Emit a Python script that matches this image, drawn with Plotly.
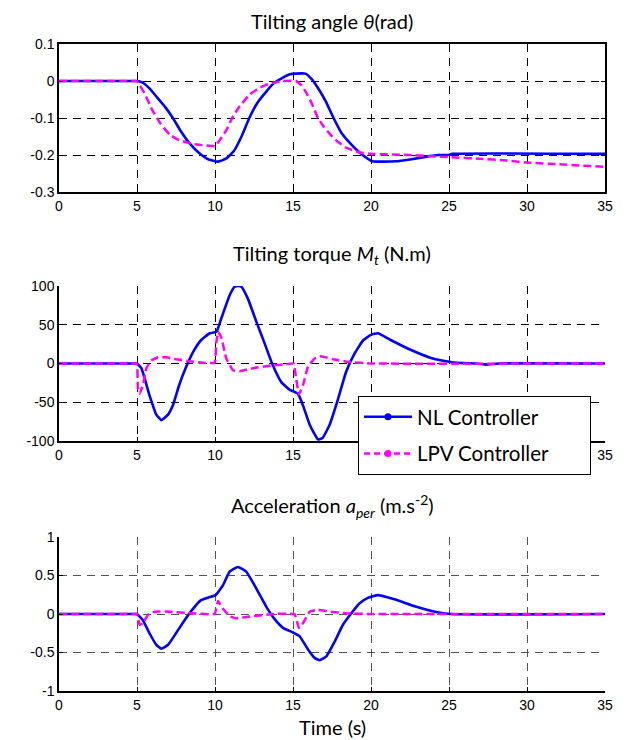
import plotly.graph_objects as go

# ---------------- data ----------------
x_ticks = [0, 5, 10, 15, 20, 25, 30, 35]

theta_nl_t = [0, 4.8, 5, 5.3, 5.8, 6.3, 6.8, 7.3, 7.8, 8.4, 9.0, 9.6, 10.2, 10.7, 11.2, 11.7, 12.2, 12.7, 13.3,
              13.8, 14.3, 14.8, 15.2, 15.8, 16.2, 16.6, 17.1, 17.6, 18.1, 18.7, 19.4, 20.1, 21.6, 22.5,
              23.5, 24.3, 25.0, 25.2, 35]
theta_nl = [0, 0, 0, -0.003, -0.02, -0.045, -0.07, -0.1, -0.135, -0.17, -0.195, -0.212, -0.218, -0.21, -0.19,
            -0.15, -0.1, -0.06, -0.028, -0.005, 0.008, 0.018, 0.02, 0.02, 0.005, -0.019, -0.055, -0.1,
            -0.14, -0.17, -0.198, -0.217, -0.217, -0.212, -0.205, -0.2, -0.2, -0.197, -0.197]

theta_lpv_t = [0, 4.8, 5, 5.5, 6.0, 6.5, 7.1, 7.6, 8.1, 8.6, 9.1, 9.6, 10.0, 10.3, 10.7, 11.1, 11.5, 12.2, 12.8,
               13.3, 13.8, 14.3, 15.2, 15.5, 15.8, 16.2, 16.6, 17.0, 17.4, 17.9, 18.4, 18.9, 19.4, 20.1,
               22.5, 25.1, 27, 28.7, 30.2, 32, 35]
theta_lpv = [0, 0, 0, -0.035, -0.08, -0.115, -0.145, -0.158, -0.165, -0.17, -0.173, -0.175, -0.176, -0.16,
             -0.135, -0.1, -0.073, -0.037, -0.02, -0.01, -0.004, 0, 0, -0.01, -0.028, -0.06, -0.1, -0.125,
             -0.145, -0.165, -0.18, -0.188, -0.194, -0.197, -0.2, -0.206, -0.21, -0.215, -0.221, -0.225,
             -0.232]

torque_nl_t = [0, 4.8, 5, 5.28, 5.8, 6.24, 6.56, 6.99, 7.3, 7.7, 8.16, 8.6, 9.1, 9.66, 10.09, 10.4, 10.94, 11.26,
               11.5, 11.69, 12.1, 12.65, 13.18, 13.7, 14.25, 14.8, 15.32, 15.64, 16.07, 16.6, 16.9, 17.35,
               17.9, 18.4, 18.95, 19.5, 20.0, 20.45, 21.2, 22.5, 23.8, 25.1, 25.9, 26.8, 27.4, 28.2, 35]
torque_nl = [0, 0, 0, -6, -41, -66, -73, -66, -54, -28, -4, 15, 30, 39, 41, 58, 88, 99, 100, 99, 84, 54, 26,
             -2, -24, -34, -39, -54, -79, -98, -96, -79, -45, -11, 13, 30, 37, 39, 31, 18, 7.5, 2, 0.5, 0,
             -1.5, 0, 0]

torque_lpv_t = [0, 4.9, 5, 5.06, 5.17, 5.38, 5.6, 5.92, 6.35, 6.9, 7.5, 8.4, 9.2, 9.98, 10.09, 10.2, 10.4, 10.73,
                11.15, 11.58, 12.44, 13.5, 14.57, 15.04, 15.2, 15.38, 15.64, 15.96, 16.39, 16.8, 17.56,
                18.6, 20, 35]
torque_lpv = [0, 0, 0, -32, -39, -28, -6, 4, 8, 8, 5.6, 3, 1, 1, 28, 41, 34, 6, -8.6, -10, -6, -3, -1, 0, -19,
              -40, -28, -4, 6.4, 9.4, 5.6, 2, 0, 0]

accel_nl_t = [0, 4.8, 5, 5.38, 5.8, 6.24, 6.56, 6.99, 7.5, 8.05, 8.6, 9.1, 9.66, 10.04, 10.5, 10.94, 11.47, 12.0,
              12.65, 13.3, 13.8, 14.36, 15.0, 15.43, 15.96, 16.39, 16.7, 17.14, 17.67, 18.2, 18.74, 19.27,
              19.8, 20.45, 21.5, 22.8, 24.1, 25.1, 35]
accel_nl = [0, 0, 0, -0.08, -0.25, -0.4, -0.45, -0.4, -0.25, -0.08, 0.07, 0.18, 0.22, 0.245, 0.37, 0.55, 0.61,
            0.55, 0.33, 0.09, -0.06, -0.18, -0.24, -0.29, -0.46, -0.57, -0.6, -0.55, -0.36, -0.14, 0.01,
            0.14, 0.21, 0.245, 0.19, 0.10, 0.03, 0, 0]

accel_lpv_t = [0, 4.9, 5, 5.17, 5.38, 5.7, 6.13, 7.1, 8.4, 9.98, 10.2, 10.5, 10.94, 11.37, 12.4, 13.7, 15.1,
               15.38, 15.64, 16.07, 16.6, 17.35, 18.4, 20, 35]
accel_lpv = [0, 0, 0, -0.14, -0.12, -0.01, 0.03, 0.03, 0.01, 0, 0.17, 0.07, -0.03, -0.055, -0.03, 0, 0, -0.18,
             -0.12, 0.03, 0.055, 0.03, 0.01, 0, 0]

legend_names = ["NL Controller", "LPV Controller"]

# ---------------- styling ----------------
BLUE = "#0000ff"
MAG = "#ff00ff"
W, H = 629, 740
L, R, T, B = 51, 597, 36, 683
pw, ph = R - L, B - T


def py(px):
    return (B - px) / ph


def px_x(px):
    return (px - L) / pw


fig = go.Figure()

panels = [
    (theta_nl_t, theta_nl, theta_lpv_t, theta_lpv, ""),
    (torque_nl_t, torque_nl, torque_lpv_t, torque_lpv, "2"),
    (accel_nl_t, accel_nl, accel_lpv_t, accel_lpv, "3"),
]
for tn, yn, tl, yl, sfx in panels:
    fig.add_trace(go.Scatter(x=tn, y=yn, mode="lines", xaxis="x" + sfx, yaxis="y" + sfx,
                             line=dict(color=BLUE, width=2.6, shape="spline", smoothing=0.4),
                             showlegend=False))
    fig.add_trace(go.Scatter(x=tl, y=yl, mode="lines", xaxis="x" + sfx, yaxis="y" + sfx,
                             line=dict(color=MAG, width=2.5, dash="8px,4px", shape="spline", smoothing=0.25),
                             showlegend=False))

pad = "\u00a0" * 7
for name, col, dash, grp in [(legend_names[0], BLUE, "solid", "a"), (legend_names[1], MAG, "6px,4px", "b")]:
    fig.add_trace(go.Scatter(x=[None], y=[None], mode="lines+markers", name=name + pad, legendgroup=grp,
                             line=dict(color=col, width=2.5, dash=dash),
                             marker=dict(color=col, size=7, symbol="circle")))

tickfont = dict(family="Liberation Sans, Arial", size=14, color="black")
domains = [(py(184), py(36)), (py(433), py(278)), (py(683), py(529))]
yranges = [(-0.3, 0.1), (-100, 100), (-1, 1)]
ytickv = [[0.1, 0, -0.1, -0.2, -0.3], [100, 50, 0, -50, -100], [1, 0.5, 0, -0.5, -1]]
ytickt = [["0.1", "0", "-0.1", "-0.2", "-0.3"], ["100", "50", "0", "-50", "-100"], ["1", "0.5", "0", "-0.5", "-1"]]
gridcols = ["black", "black", "#555555"]

for i in range(3):
    sfx = "" if i == 0 else str(i + 1)
    box = (i == 0)
    fig.layout["xaxis" + sfx] = dict(
        domain=[0, 1], range=[0, 35], anchor="y" + sfx, tickmode="array", tickvals=x_ticks,
        ticktext=[str(v) for v in x_ticks], showgrid=True, gridcolor=gridcols[i], griddash="8px,6px",
        gridwidth=1, showline=True, linecolor="black", linewidth=1.5,
        mirror="ticks" if box else False, ticks="inside", ticklen=4, tickcolor="black",
        zeroline=False, tickfont=tickfont, fixedrange=True)
    fig.layout["yaxis" + sfx] = dict(
        domain=list(domains[i]), range=list(yranges[i]), anchor="x" + sfx, tickmode="array",
        tickvals=ytickv[i], ticktext=ytickt[i], showgrid=True, gridcolor=gridcols[i],
        griddash="8px,6px", gridwidth=1, showline=True, linecolor="black", linewidth=1.5,
        mirror="ticks" if box else False, ticks="inside", ticklen=4, tickcolor="black",
        zeroline=False, tickfont=tickfont, fixedrange=True)

titlefont = dict(family="Lato, Open Sans, sans-serif", size=20, color="black")
ann = [
    ("Tilting angle <i>θ</i>(rad)", 13),
    ("Tilting torque <i>M<sub>t</sub></i> (N.m)", 247),
    ("Acceleration <i>a<sub>per</sub></i> (m.s<sup>-2</sup>)", 498),
    ("Time (s)", 719),
]
for text, ypx in ann:
    fig.add_annotation(text=text, x=0.5, y=py(ypx), xref="paper", yref="paper", xanchor="center",
                       yanchor="middle", showarrow=False, font=titlefont)

fig.update_layout(
    width=W, height=H,
    margin=dict(l=L, r=W - R, t=T, b=H - B),
    paper_bgcolor="white", plot_bgcolor="white",
    showlegend=True,
    legend=dict(x=px_x(350), y=py(388), xanchor="left", yanchor="top", bgcolor="white",
                bordercolor="black", borderwidth=1,
                font=dict(family="Lato, Open Sans, sans-serif", size=20.5, color="black"),
                itemwidth=48, tracegroupgap=7, traceorder="grouped"),
)

fig.write_html("out.html")
